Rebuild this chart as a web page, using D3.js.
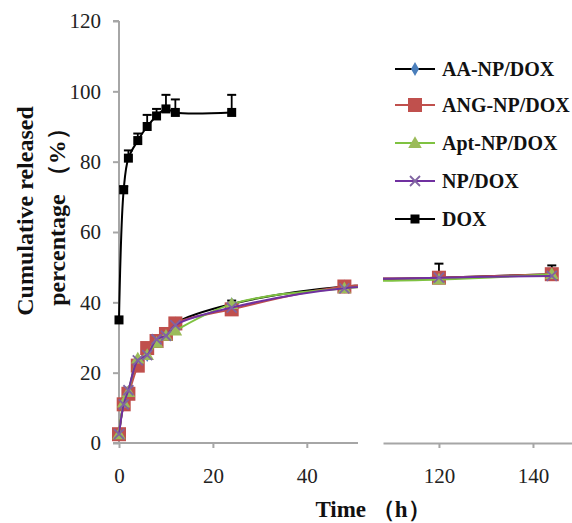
<!DOCTYPE html>
<html>
<head>
<meta charset="utf-8">
<script src="https://cdn.jsdelivr.net/npm/d3@7"></script>
<style>
  body { margin: 0; background: #fff; }
  svg { display: block; }
  svg text { font-family: 'Liberation Serif', 'Times New Roman', serif; }
</style>
</head>
<body>
<div id="chart"></div>
<script>
// data
let times = [0, 1, 2, 4, 6, 8, 10, 12, 24, 48, 120, 144];
let aaNp  = [2.5, 11, 14.5, 23.5, 25, 29, 31, 34, 39.5, 44.5, 47, 48];
let angNp = [2.5, 11, 14, 22, 27, 29, 31, 34, 38, 44.5, 47, 48];
let aptNp = [2.5, 11.5, 14.5, 24, 25, 28.5, 30.5, 32, 39.5, 44, 46.5, 48];
let npDox = [2.5, 11, 15, 23.5, 25, 29.5, 30.5, 33.5, 38.5, 44, 47, 47.5];
let aaErr = [0, 0, 0, 0, 0, 0, 0, 1.5, 1, 1, 4, 2.5];

let doxTimes = [0, 1, 2, 4, 6, 8, 10, 12, 24];
let dox      = [35, 72, 81, 86, 90, 93, 95, 94, 94];
let doxErr   = [0, 1, 2.2, 2, 3.3, 2, 4, 3.7, 5];

let yTicks = [0, 20, 40, 60, 80, 100, 120];
let xTicksLeft = [0, 20, 40];
let xTicksRight = [120, 140];
let legendNames = ['AA-NP/DOX', 'ANG-NP/DOX', 'Apt-NP/DOX', 'NP/DOX', 'DOX'];

let W = 572, H = 523;
let svg = d3.select('#chart').append('svg').attr('width', W).attr('height', H);

let axisCol = '#a6a6a6';

let y = d3.scaleLinear().domain([0, 120]).range([443, 21]);
// broken x axis: two pieces at the same scale
let xL = d3.scaleLinear().domain([0, 50.9]).range([119, 358]);
let xR = d3.scaleLinear().domain([108.1, 148.3]).range([383, 572]);

let defs = svg.append('defs');
defs.append('clipPath').attr('id', 'clipL').append('rect')
  .attr('x', 100).attr('y', 0).attr('width', 358 - 100).attr('height', H);
defs.append('clipPath').attr('id', 'clipR').append('rect')
  .attr('x', 383).attr('y', 0).attr('width', W - 383).attr('height', H);

// axes
let gy = svg.append('g').attr('transform', 'translate(119,0)')
  .call(d3.axisLeft(y).tickValues(yTicks).tickSize(6).tickPadding(12));
let gxl = svg.append('g').attr('transform', 'translate(0,443)')
  .call(d3.axisBottom(xL).tickValues(xTicksLeft).tickSize(5).tickPadding(20).tickSizeOuter(0));
let gxr = svg.append('g').attr('transform', 'translate(0,443)')
  .call(d3.axisBottom(xR).tickValues(xTicksRight).tickSize(5).tickPadding(20).tickSizeOuter(0));

[gy, gxl, gxr].forEach(g => {
  g.attr('font-family', null);
  g.select('.domain').attr('stroke', axisCol).attr('stroke-width', 2);
  g.selectAll('.tick line').attr('stroke', axisCol).attr('stroke-width', 2);
  g.selectAll('.tick text').attr('font-size', 21).attr('fill', '#222');
});
gy.select('.domain').attr('d', 'M0,443V21M0,21H-6');
gxl.select('.domain').attr('d', 'M113,0H358');

// axis titles
let yt = svg.append('text').attr('transform', 'translate(33,211) rotate(-90)')
  .attr('text-anchor', 'middle').attr('font-weight', 'bold')
  .attr('font-size', 24).attr('fill', '#111');
yt.append('tspan').attr('x', 0).attr('y', 0).text('Cumulative released');
yt.append('tspan').attr('x', 0).attr('y', 32).text('percentage （%）');

svg.append('text').attr('x', 373).attr('y', 517).attr('text-anchor', 'middle')
  .attr('font-weight', 'bold').attr('font-size', 23)
  .attr('fill', '#111').text('Time （h）');

// marker drawers
function marker(g, kind, cx, cy) {
  if (kind == 'diamond') {
    g.append('path').attr('d', d3.symbol(d3.symbolDiamond, 55)())
      .attr('transform', `translate(${cx},${cy})`).attr('fill', '#4a7ebb');
  } else if (kind == 'square') {
    g.append('rect').attr('x', cx - 7).attr('y', cy - 7).attr('width', 14).attr('height', 14)
      .attr('fill', '#c0504d');
  } else if (kind == 'triangle') {
    g.append('path').attr('d', d3.symbol(d3.symbolTriangle, 80)())
      .attr('transform', `translate(${cx},${cy + 1})`).attr('fill', '#9bbb59');
  } else if (kind == 'cross') {
    g.append('path').attr('d', `M${cx - 5},${cy - 5}L${cx + 5},${cy + 5}M${cx - 5},${cy + 5}L${cx + 5},${cy - 5}`)
      .attr('stroke', '#8064a2').attr('stroke-width', 1.8).attr('fill', 'none');
  } else if (kind == 'small') {
    g.append('rect').attr('x', cx - 4.5).attr('y', cy - 4.5).attr('width', 9).attr('height', 9)
      .attr('fill', '#000');
  }
}

function errBars(g, xs, vals, errs, xs2) {
  xs.forEach((t, i) => {
    if (!errs[i]) return;
    let px = xs2(t);
    g.append('line').attr('x1', px).attr('x2', px).attr('y1', y(vals[i])).attr('y2', y(vals[i] + errs[i]))
      .attr('stroke', '#000').attr('stroke-width', 1.8);
    g.append('line').attr('x1', px - 4.5).attr('x2', px + 4.5)
      .attr('y1', y(vals[i] + errs[i])).attr('y2', y(vals[i] + errs[i]))
      .attr('stroke', '#000').attr('stroke-width', 2);
  });
}

let series = [
  { xs: times, vals: aaNp, line: '#000', kind: 'diamond', err: aaErr },
  { xs: times, vals: angNp, line: '#c0504d', kind: 'square' },
  { xs: times, vals: aptNp, line: '#7fc241', kind: 'triangle' },
  { xs: times, vals: npDox, line: '#7030a0', kind: 'cross' },
  { xs: doxTimes, vals: dox, line: '#000', kind: 'small', err: doxErr }
];

[[xL, 'clipL'], [xR, 'clipR']].forEach(([xs, clip]) => {
  let g = svg.append('g').attr('clip-path', `url(#${clip})`);
  series.forEach(s => {
    let pts = s.xs.map((t, i) => [t, s.vals[i]]);
    let line = d3.line().x(d => xs(d[0])).y(d => y(d[1])).curve(d3.curveCatmullRom.alpha(0.5));
    if (s.err) errBars(g, s.xs, s.vals, s.err, xs);
    g.append('path').attr('d', line(pts)).attr('fill', 'none')
      .attr('stroke', s.line).attr('stroke-width', 2);
    pts.forEach(p => marker(g, s.kind, xs(p[0]), y(p[1])));
  });
});

// legend
let legY = [69, 105, 143, 181, 219];
let leg = svg.append('g');
series.forEach((s, i) => {
  let ly = legY[i];
  leg.append('line').attr('x1', 395).attr('x2', 435).attr('y1', ly).attr('y2', ly)
    .attr('stroke', s.line).attr('stroke-width', 2);
  marker(leg, s.kind, 415, ly);
  leg.append('text').attr('x', 442).attr('y', ly + 7)
    .attr('font-weight', 'bold').attr('font-size', 20).attr('fill', '#111').text(legendNames[i]);
});
</script>
</body>
</html>
